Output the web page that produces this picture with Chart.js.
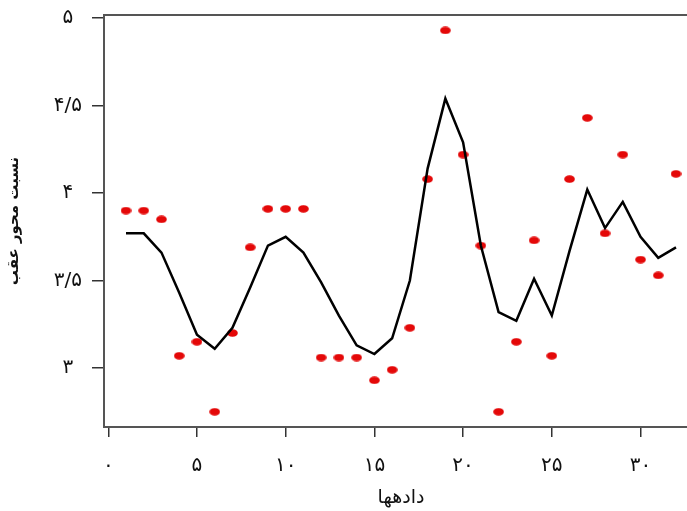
<!DOCTYPE html>
<html>
<head>
<meta charset="utf-8">
<script src="https://cdn.jsdelivr.net/npm/chart.js@4"></script>
<style>
html, body { margin: 0; padding: 0; overflow: hidden; background: #fff; }
</style>
</head>
<body>
<canvas id="myChart" width="710" height="511"></canvas>
<script>
var xValues = [1, 2, 3, 4, 5, 6, 7, 8, 9, 10, 11, 12, 13, 14, 15, 16,
	17, 18, 19, 20, 21, 22, 23, 24, 25, 26, 27, 28, 29, 30, 31, 32];
var pointValues = [3.90, 3.90, 3.85, 3.07, 3.15, 2.75, 3.20, 3.69, 3.91, 3.91, 3.91, 3.06, 3.06, 3.06, 2.93, 2.99,
	3.23, 4.08, 4.93, 4.22, 3.70, 2.75, 3.15, 3.73, 3.07, 4.08, 4.43, 3.77, 4.22, 3.62, 3.53, 4.11];
var lineValues = [3.77, 3.77, 3.66, 3.43, 3.19, 3.11, 3.23, 3.46, 3.70, 3.75, 3.66, 3.49, 3.30, 3.13, 3.08, 3.17,
	3.50, 4.14, 4.54, 4.29, 3.70, 3.32, 3.27, 3.51, 3.30, 3.67, 4.02, 3.80, 3.95, 3.75, 3.63, 3.69];
var xTicks = [0, 5, 10, 15, 20, 25, 30];
var xTickLabels = ['۰', '۵', '۱۰', '۱۵', '۲۰', '۲۵', '۳۰'];
var yTicks = [3, 3.5, 4, 4.5, 5];
var yTickLabels = ['۳', '۳/۵', '۴', '۴/۵', '۵'];

var fontName = "'DejaVu Sans', sans-serif";

// red dots in the reference are a bit wider than tall
var dot = document.createElement('canvas');
dot.width = 11;
dot.height = 8;
var dctx = dot.getContext('2d');
dctx.fillStyle = 'rgb(228, 8, 8)';
dctx.beginPath();
dctx.ellipse(5.5, 4, 5.3, 3.8, 0, 0, Math.PI * 2);
dctx.fill();

function toXY(ys) {
	var out = [];
	for (var i = 0; i < xValues.length; i++) {
		out.push({ x: xValues[i], y: ys[i] });
	}
	return out;
}

var boxPlugin = {
	id: 'box',
	afterDraw: function(chart) {
		var a = chart.chartArea;
		var c = chart.ctx;
		c.save();
		c.strokeStyle = '#555';
		c.lineWidth = 2;
		c.strokeRect(a.left, a.top, a.right - a.left, a.bottom - a.top);
		c.restore();
	}
};

var ctx = document.getElementById('myChart').getContext('2d');

var myChart = new Chart(ctx, {
	type: 'scatter',
	data: {
		datasets: [{
			type: 'line',
			label: 'line',
			data: toXY(lineValues),
			borderColor: '#000',
			borderWidth: 2.5,
			pointRadius: 0,
			fill: false,
			tension: 0
		}, {
			label: 'points',
			data: toXY(pointValues),
			pointStyle: dot,
			pointRadius: 5
		}]
	},
	plugins: [boxPlugin],
	options: {
		responsive: false,
		animation: false,
		devicePixelRatio: 1,
		layout: { padding: { top: 15, right: 12, left: 0, bottom: 0 } },
		plugins: {
			legend: { display: false },
			tooltip: { enabled: false }
		},
		scales: {
			x: {
				type: 'linear',
				min: -0.24,
				max: 33.24,
				afterBuildTicks: function(scale) {
					scale.ticks = xTicks.map(function(v) { return { value: v }; });
				},
				afterFit: function(scale) { scale.height = 84; },
				border: { display: false },
				grid: { drawOnChartArea: false, drawTicks: true, tickLength: 10, color: '#333', lineWidth: 1.5 },
				ticks: {
					padding: 17,
					color: '#111',
					maxRotation: 0,
					autoSkip: false,
					font: { family: fontName, size: 20 },
					callback: function(v) { return xTickLabels[xTicks.indexOf(v)]; }
				},
				title: {
					display: true,
					text: 'دادهها',
					color: '#111',
					font: { family: fontName, size: 19 },
					padding: { top: 0, bottom: 2 }
				}
			},
			y: {
				type: 'linear',
				min: 2.663,
				max: 5.018,
				afterBuildTicks: function(scale) {
					scale.ticks = yTicks.map(function(v) { return { value: v }; });
				},
				afterFit: function(scale) {
					scale.width = 104;
					scale.paddingTop = 0;
					scale.paddingBottom = 0;
				},
				border: { display: false },
				grid: { drawOnChartArea: false, drawTicks: true, tickLength: 12, color: '#333', lineWidth: 1.5 },
				ticks: {
					padding: 10,
					color: '#111',
					crossAlign: 'center',
					autoSkip: false,
					font: { family: fontName, size: 20 },
					callback: function(v) { return yTickLabels[yTicks.indexOf(v)]; }
				},
				title: {
					display: true,
					text: 'نسبت محور عقب',
					color: '#111',
					font: { family: fontName, size: 15, weight: 'bold' },
					padding: { top: 5, bottom: 0 }
				}
			}
		}
	}
});
</script>
</body>
</html>
